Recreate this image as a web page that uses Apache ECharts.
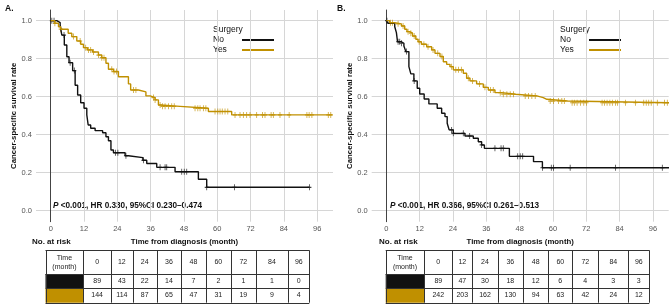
<!DOCTYPE html>
<html><head><meta charset="utf-8">
<script src="https://cdn.jsdelivr.net/npm/echarts@6/dist/echarts.min.js"></script>
<style>html,body{margin:0;padding:0;background:#fff}#c{width:669px;height:307px}</style>
</head><body><div id="c"></div>
<script>
// ---------- data ----------
const timeTicks = [0, 12, 24, 36, 48, 60, 72, 84, 96];
const survTicks = [0, 0.2, 0.4, 0.6, 0.8, 1.0];
const groupNames = ['No', 'Yes'];

// Panel A
const aNoTime = [0, 2.2, 3.4, 4.0, 4.9, 5.8, 6.6, 7.9, 8.8, 9.7, 10.8, 12.0, 13.0, 13.5, 14.4, 16.0, 18.7, 19.9, 20.8, 21.7, 22.6, 26.8, 28.0, 33.2, 34.6, 38.2, 44.8, 53.2, 56.2, 93.2];
const aNoSurv = [1, 0.99, 0.977, 0.924, 0.872, 0.81, 0.779, 0.737, 0.66, 0.609, 0.568, 0.539, 0.504, 0.451, 0.434, 0.421, 0.41, 0.389, 0.368, 0.319, 0.305, 0.289, 0.279, 0.265, 0.248, 0.228, 0.205, 0.165, 0.123, 0.123];
const aNoCensor = [0.4, 1.2, 4.8, 7.0, 8.5, 23.3, 24.2, 27.1, 33.4, 39.4, 41.2, 41.8, 47.2, 48.1, 49.0, 56.2, 66.2, 93.2];
const aYesTime = [0, 1.5, 2.8, 3.6, 6.3, 7.6, 9.4, 10.8, 11.8, 13.2, 15.1, 17.2, 18.4, 19.9, 20.8, 22.6, 24.4, 28.0, 28.8, 31.6, 34.3, 35.8, 37.6, 38.8, 39.6, 46.6, 56.8, 65.2, 101.5];
const aYesSurv = [1, 0.986, 0.968, 0.955, 0.934, 0.916, 0.893, 0.876, 0.858, 0.846, 0.835, 0.819, 0.805, 0.776, 0.744, 0.732, 0.705, 0.667, 0.635, 0.625, 0.604, 0.595, 0.583, 0.556, 0.549, 0.539, 0.522, 0.504, 0.504];
const aYesCensor = [1.5, 3.6, 8.2, 10.6, 12.6, 13.6, 14.4, 15.4, 17.2, 18.4, 19.2, 22.0, 22.8, 23.7, 29.8, 30.7, 37.0, 37.6, 39.4, 40.3, 41.2, 42.4, 43.6, 44.5, 52.0, 53.0, 53.8, 55.0, 55.9, 59.2, 60.2, 61.0, 61.8, 62.8, 63.8, 66.4, 68.2, 69.4, 70.6, 71.8, 74.2, 76.3, 77.2, 79.4, 80.2, 82.6, 85.9, 92.3, 93.1, 94.1, 100.0, 100.9];
const aRiskNo = [89, 43, 22, 14, 7, 2, 1, 1, 0];
const aRiskYes = [144, 114, 87, 65, 47, 31, 19, 9, 4];
const aStat = 'P <0.001, HR 0.330, 95%CI 0.230\u20130.474';

// Panel B
const bNoTime = [0, 0.6, 3.0, 3.6, 4.0, 5.4, 6.3, 7.0, 8.1, 8.8, 9.9, 11.1, 12.0, 13.6, 15.3, 18.3, 19.9, 21.1, 21.9, 22.6, 24.1, 28.3, 31.3, 33.1, 34.3, 35.3, 44.3, 53.0, 56.2, 101.8];
const bNoSurv = [1, 0.986, 0.968, 0.937, 0.889, 0.881, 0.867, 0.837, 0.758, 0.72, 0.683, 0.644, 0.614, 0.588, 0.562, 0.539, 0.513, 0.495, 0.46, 0.425, 0.407, 0.393, 0.381, 0.363, 0.346, 0.328, 0.286, 0.258, 0.226, 0.226];
const bNoCensor = [0.2, 4.2, 4.8, 5.4, 7.2, 10.0, 23.5, 24.1, 27.7, 30.0, 34.3, 39.1, 41.3, 42.1, 47.3, 48.2, 49.1, 56.2, 59.4, 60.2, 66.2, 82.5, 99.4];
const bYesTime = [0, 1.2, 3.0, 5.4, 6.6, 7.4, 8.4, 9.4, 10.6, 11.4, 12.6, 14.5, 16.3, 17.5, 19.3, 20.5, 21.7, 22.9, 24.1, 27.7, 28.9, 30.1, 32.5, 34.9, 36.7, 39.1, 41.6, 46.5, 54.2, 56.5, 57.8, 65.3, 101.8];
const bYesSurv = [1, 0.989, 0.983, 0.972, 0.955, 0.942, 0.934, 0.919, 0.902, 0.889, 0.876, 0.863, 0.846, 0.828, 0.811, 0.784, 0.77, 0.758, 0.741, 0.723, 0.697, 0.683, 0.667, 0.649, 0.635, 0.621, 0.613, 0.604, 0.595, 0.586, 0.577, 0.568, 0.568];
const bYesCensor = [1.5, 2.2, 4.2, 6.0, 7.8, 8.8, 10.0, 11.8, 13.5, 15.0, 16.8, 18.5, 20.0, 23.5, 25.0, 26.0, 27.0, 29.5, 31.0, 33.5, 35.5, 37.5, 38.5, 41.0, 42.1, 43.4, 44.6, 45.8, 50.0, 51.2, 52.4, 53.6, 59.0, 60.2, 62.0, 63.2, 64.1, 66.9, 67.7, 68.7, 69.9, 71.1, 72.1, 77.7, 78.6, 79.5, 80.5, 81.4, 82.5, 83.3, 86.1, 89.7, 92.7, 93.6, 94.5, 95.4, 97.6, 100.2, 101.2];
const bRiskNo = [89, 47, 30, 18, 12, 6, 4, 3, 3];
const bRiskYes = [242, 203, 162, 130, 94, 63, 42, 24, 12];
const bStat = 'P <0.001, HR 0.366, 95%CI 0.261\u20130.513';

// ---------- helpers ----------
const BLACK = '#111111', GOLD = '#C09000';
const FONT = '"Liberation Sans", Arial, sans-serif';
function stepData(times, surv) { return times.map((t, i) => [t, surv[i]]); }
function survAt(times, surv, t) {
  let s = surv[0];
  for (let i = 0; i < times.length; i++) { if (times[i] <= t + 1e-9) s = surv[i]; else break; }
  return s;
}
function censorData(ct, times, surv) { return ct.map(t => [t, survAt(times, surv, t)]); }
const PLUS = 'path://M4,0H6V4H10V6H6V10H4V6H0V4H4Z';

const panels = [
  {left: 36, label: 'A.', labelX: 5, legendX: 213, lineX: 242, statX: 52, riskX: 32,
   cols: [45.5, 83.3, 111, 132.7, 156.7, 181.3, 205.7, 231, 255.7, 288.3, 309.3],
   no: [aNoTime, aNoSurv, aNoCensor], yes: [aYesTime, aYesSurv, aYesCensor], riskNo: aRiskNo, riskYes: aRiskYes, stat: aStat},
  {left: 371.7, label: 'B.', labelX: 337, legendX: 560, lineX: 589, statX: 389, riskX: 379,
   cols: [385.7, 424.3, 452.3, 472.3, 497.7, 523, 548.3, 572.3, 598.3, 628.3, 649.3],
   no: [bNoTime, bNoSurv, bNoCensor], yes: [bYesTime, bYesSurv, bYesCensor], riskNo: bRiskNo, riskYes: bRiskYes, stat: bStat}
];
const rows = [250.3, 274, 288.3, 302.7];
const px = v => Math.round(v) + 0.5;

const grids = [], xAxes = [], yAxes = [], series = [], graphics = [];
panels.forEach((p, gi) => {
  grids.push({left: p.left, top: 10, width: 297, height: 211.7});
  xAxes.push({
    type: 'value', gridIndex: gi, min: -5.3, max: 101.7,
    name: 'Time from diagnosis (month)', nameLocation: 'middle', nameGap: 15,
    nameTextStyle: {fontFamily: FONT, fontWeight: 'bold', fontSize: 7.8, color: '#111'},
    axisLine: {show: false}, axisTick: {show: false, customValues: timeTicks},
    axisLabel: {customValues: timeTicks, color: '#555', fontSize: 7.5, fontFamily: FONT, margin: 3},
    splitLine: {show: true, lineStyle: {color: '#d6d6d6', width: 1}}
  });
  yAxes.push({
    type: 'value', gridIndex: gi, min: -0.058, max: 1.056,
    name: 'Cancer-specific survival rate', nameLocation: 'middle', nameGap: 18,
    nameTextStyle: {fontFamily: FONT, fontWeight: 'bold', fontSize: 7.8, color: '#111'},
    axisLine: {show: true, lineStyle: {color: '#444', width: 1}},
    axisTick: {show: false, customValues: survTicks},
    axisLabel: {customValues: survTicks, formatter: v => v.toFixed(1), color: '#555', fontSize: 7.5, fontFamily: FONT, margin: 4},
    splitLine: {show: true, lineStyle: {color: '#d6d6d6', width: 1}}
  });
  [[p.no, BLACK, groupNames[0]], [p.yes, GOLD, groupNames[1]]].forEach(([g, col, nm]) => {
    series.push({type: 'line', name: nm, xAxisIndex: gi, yAxisIndex: gi, step: 'end', showSymbol: false,
      data: stepData(g[0], g[1]), lineStyle: {color: col, width: 1.4}, itemStyle: {color: col}, silent: true, animation: false});
    series.push({type: 'scatter', xAxisIndex: gi, yAxisIndex: gi, symbol: PLUS, symbolSize: [4, 6],
      data: censorData(g[2], g[0], g[1]), itemStyle: {color: col}, silent: true, animation: false});
  });
  // panel label
  graphics.push({type: 'text', x: p.labelX, y: 9, style: {text: p.label, font: 'bold 8.5px ' + FONT, fill: '#111', verticalAlign: 'middle'}});
  // legend
  graphics.push({type: 'text', x: p.legendX, y: 30, style: {text: 'Surgery', font: '8.5px ' + FONT, fill: '#111', verticalAlign: 'middle'}});
  graphics.push({type: 'text', x: p.legendX, y: 40, style: {text: groupNames[0], font: '8.5px ' + FONT, fill: '#111', verticalAlign: 'middle'}});
  graphics.push({type: 'text', x: p.legendX, y: 50, style: {text: groupNames[1], font: '8.5px ' + FONT, fill: '#111', verticalAlign: 'middle'}});
  graphics.push({type: 'line', shape: {x1: p.lineX, y1: 40, x2: p.lineX + 32, y2: 40}, style: {stroke: BLACK, lineWidth: 2}});
  graphics.push({type: 'line', shape: {x1: p.lineX, y1: 50, x2: p.lineX + 32, y2: 50}, style: {stroke: GOLD, lineWidth: 2}});
  // stats annotation
  graphics.push({type: 'text', x: p.statX, y: 206, style: {
    text: '{i|P}{b|' + p.stat.slice(1) + '}', verticalAlign: 'middle',
    backgroundColor: '#fff', padding: [1, 1, 1, 1],
    rich: {i: {font: 'italic bold 8.2px ' + FONT, fill: '#111'}, b: {font: 'bold 8.2px ' + FONT, fill: '#111'}}}});
  // No. at risk
  graphics.push({type: 'text', x: p.riskX, y: 242, style: {text: 'No. at risk', font: 'bold 8px ' + FONT, fill: '#111', verticalAlign: 'middle'}});
  // risk table
  const c = p.cols;
  graphics.push({type: 'rect', shape: {x: c[0], y: rows[1], width: c[1] - c[0], height: rows[2] - rows[1]}, style: {fill: BLACK}});
  graphics.push({type: 'rect', shape: {x: c[0], y: rows[2], width: c[1] - c[0], height: rows[3] - rows[2]}, style: {fill: GOLD}});
  rows.forEach(r => graphics.push({type: 'line', shape: {x1: c[0], y1: px(r), x2: c[c.length - 1], y2: px(r)}, style: {stroke: '#333', lineWidth: 1}}));
  c.forEach(x => graphics.push({type: 'line', shape: {x1: px(x), y1: rows[0], x2: px(x), y2: rows[3]}, style: {stroke: '#333', lineWidth: 1}}));
  const rowMid = [(rows[0] + rows[1]) / 2, (rows[1] + rows[2]) / 2, (rows[2] + rows[3]) / 2];
  graphics.push({type: 'text', x: (c[0] + c[1]) / 2, y: rowMid[0], style: {text: 'Time\n(month)', font: '7px ' + FONT, fill: '#222', align: 'center', verticalAlign: 'middle', lineHeight: 9}});
  timeTicks.forEach((t, i) => {
    const cx = (c[i + 1] + c[i + 2]) / 2;
    graphics.push({type: 'text', x: cx, y: rowMid[0], style: {text: String(t), font: '7px ' + FONT, fill: '#222', align: 'center', verticalAlign: 'middle'}});
    graphics.push({type: 'text', x: cx, y: rowMid[1], style: {text: String(p.riskNo[i]), font: '7px ' + FONT, fill: '#222', align: 'center', verticalAlign: 'middle'}});
    graphics.push({type: 'text', x: cx, y: rowMid[2], style: {text: String(p.riskYes[i]), font: '7px ' + FONT, fill: '#222', align: 'center', verticalAlign: 'middle'}});
  });
});

const chart = echarts.init(document.getElementById('c'));
chart.setOption({
  animation: false,
  backgroundColor: '#fff',
  textStyle: {fontFamily: FONT},
  grid: grids, xAxis: xAxes, yAxis: yAxes, series: series,
  graphic: {elements: graphics}
});
</script>
</body></html>
